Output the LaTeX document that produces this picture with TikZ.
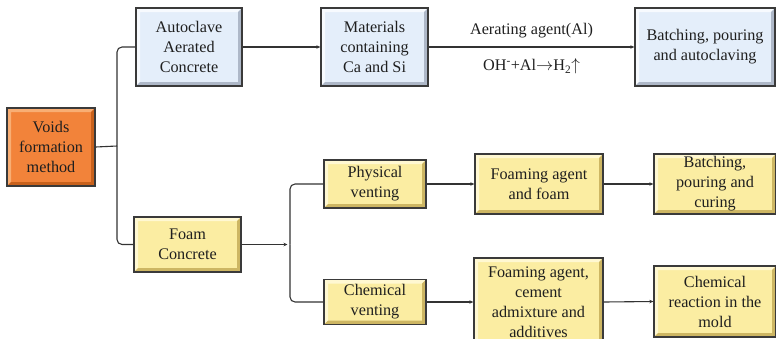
\documentclass[tikz,border=0pt]{standalone}
\usepackage{fontspec}
\setmainfont{Liberation Serif}
\usetikzlibrary{arrows.meta}
\definecolor{orangeF}{HTML}{F2833A}
\definecolor{orangeL}{HTML}{F8AE74}
\definecolor{orangeD}{HTML}{C8611C}
\definecolor{blueF}{HTML}{E4EEFA}
\definecolor{blueL}{HTML}{F7FAFE}
\definecolor{blueD}{HTML}{AEB8C8}
\definecolor{yelF}{HTML}{FBEDA2}
\definecolor{yelL}{HTML}{FFF8D2}
\definecolor{yelD}{HTML}{CDB663}
\definecolor{edgeC}{HTML}{3A3A3A}
\definecolor{lineC}{HTML}{333333}
\tikzset{
  bev/.style 2 args={path picture={
    \path (path picture bounding box.south west) coordinate (bvsw)
          (path picture bounding box.south east) coordinate (bvse)
          (path picture bounding box.north east) coordinate (bvne)
          (path picture bounding box.north west) coordinate (bvnw);
    \fill[#1] (bvsw) -- (bvnw) -- (bvne) -- ([xshift=-4pt,yshift=-4pt]bvne)
      -- ([xshift=4pt,yshift=-4pt]bvnw) -- ([xshift=4pt,yshift=4pt]bvsw) -- cycle;
    \fill[#2] (bvsw) -- (bvse) -- (bvne) -- ([xshift=-4pt,yshift=-4pt]bvne)
      -- ([xshift=-4pt,yshift=4pt]bvse) -- ([xshift=4pt,yshift=4pt]bvsw) -- cycle;
  }},
  boxbase/.style={draw=edgeC, line width=1.3pt, align=center, inner sep=1pt,
    font=\fontsize{16.2}{20}\selectfont, text=black!88},
  obox/.style={boxbase, fill=orangeF, bev={orangeL}{orangeD}},
  bbox/.style={boxbase, fill=blueF, bev={blueL}{blueD}},
  ybox/.style={boxbase, fill=yelF, bev={yelL}{yelD}},
  conn/.style={draw=lineC, line width=1.1pt},
  arr/.style={conn, -{Stealth[length=4pt,width=3.5pt]}},
  lbl/.style={font=\fontsize{16.2}{20}\selectfont, text=black!88}
}
\begin{document}
\begin{tikzpicture}[x=1pt,y=-1pt]
\useasboundingbox (0,0) rectangle (776,338);
\node[obox, minimum width=88pt, minimum height=78pt] (voids) at (51,147) {Voids\\formation\\method};
\node[bbox, minimum width=106pt, minimum height=78pt] (auto) at (189,47) {Autoclave\\Aerated\\Concrete};
\node[bbox, minimum width=107pt, minimum height=78pt] (mat) at (374.5,47) {Materials\\containing\\Ca and Si};
\node[bbox, minimum width=140pt, minimum height=78pt] (batA) at (705,47) {Batching, pouring\\and autoclaving};
\node[ybox, minimum width=107pt, minimum height=55pt] (foam) at (187.5,244.5) {Foam\\Concrete};
\node[ybox, minimum width=102pt, minimum height=48pt] (phys) at (375,184) {Physical\\venting};
\node[ybox, minimum width=102pt, minimum height=45pt] (chem) at (375,302) {Chemical\\venting};
\node[ybox, minimum width=128pt, minimum height=60pt] (fagent) at (539,184) {Foaming agent\\and foam};
\node[ybox, minimum width=122pt, minimum height=60pt] (batC) at (715,184) {Batching,\\pouring and\\curing};
\node[ybox, minimum width=129pt, minimum height=88pt] (fcem) at (538.5,302) {Foaming agent,\\cement\\admixture and\\additives};
\node[ybox, minimum width=122pt, minimum height=71pt] (react) at (715,301.5) {Chemical\\reaction in the\\mold};

\coordinate (j1) at (117,146);
\coordinate (j2) at (290,244.5);
\draw[conn] (voids.east) -- (j1);
\draw[conn, rounded corners=5pt] (j1) |- (auto.west);
\draw[conn, rounded corners=5pt] (j1) |- (foam.west);
\draw[arr] (auto.east) -- (mat.west);
\draw[arr] (mat.east) -- (batA.west)
  node[lbl, midway, above=5pt] (l1) {Aerating agent(Al)}
  node[lbl, midway, below=8pt] (l2) {OH\textsuperscript{-}+Al$\rightarrow$H\textsubscript{2}$\uparrow$};
\draw[arr] (foam.east) -- ([xshift=-2.5pt]j2);
\draw[conn, rounded corners=5pt] (j2) |- (phys.west);
\draw[conn, rounded corners=5pt] (j2) |- (chem.west);
\draw[arr] (phys.east) -- (fagent.west);
\draw[arr] (fagent.east) -- (batC.west);
\draw[arr] (chem.east) -- (fcem.west);
\draw[arr] (fcem.east) -- (react.west);
\end{tikzpicture}
\end{document}
